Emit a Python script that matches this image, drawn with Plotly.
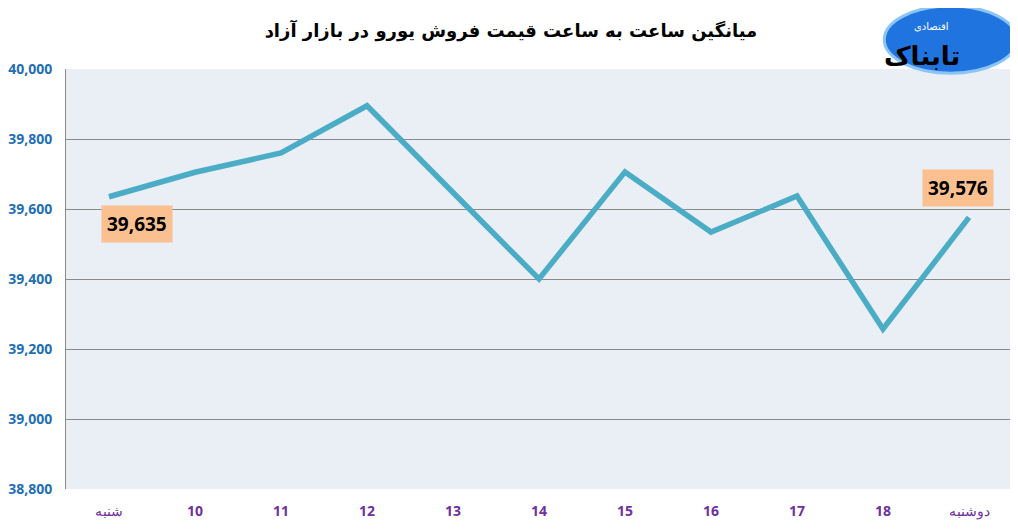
import plotly.graph_objects as go

# hourly average euro selling price, free market
hours = ["شنبه", "10", "11", "12", "13", "14", "15", "16", "17", "18", "دوشنبه"]
prices = [39635, 39705, 39760, 39895, 39647, 39400, 39706, 39534, 39637, 39257, 39576]

title_text = "میانگین ساعت به ساعت قیمت فروش یورو در بازار آزاد"
y_ticks = [38800, 39000, 39200, 39400, 39600, 39800, 40000]

# numbers bold, day names plain (like the original)
hour_labels = [h if not h.isdigit() else "<b>" + h + "</b>" for h in hours]

fig = go.Figure()
fig.add_trace(go.Scatter(
    x=hours, y=prices, mode="lines",
    line=dict(color="#4bacc6", width=5.5),
    hoverinfo="x+y", showlegend=False,
))

# value boxes on first and last point
fig.add_annotation(x=hours[0], y=prices[0], text="<b>39,635</b>",
                   showarrow=True, arrowcolor="rgba(0,0,0,0)", ax=28, ay=27,
                   bgcolor="#fac090", borderpad=5,
                   font=dict(family="Open Sans", size=19, color="black"))
fig.add_annotation(x=hours[-1], y=prices[-1], text="<b>39,576</b>",
                   showarrow=True, arrowcolor="rgba(0,0,0,0)", ax=-11, ay=-29,
                   bgcolor="#fac090", borderpad=5,
                   font=dict(family="Open Sans", size=19, color="black"))

# logo-ish badge top right
fig.add_shape(type="circle", xref="paper", yref="paper",
              x0=0.865, x1=1.005, y0=0.99, y1=1.15,
              fillcolor="#1f74e0", line=dict(color="#8cc4f5", width=3), layer="above")
fig.add_annotation(xref="paper", yref="paper", x=0.905, y=1.03,
                   xanchor="center", yanchor="middle",
                   text="<b>تابناک</b>", showarrow=False,
                   font=dict(family="DejaVu Sans", size=26, color="black"))
fig.add_annotation(xref="paper", yref="paper", x=0.915, y=1.1,
                   xanchor="center", yanchor="middle",
                   text="اقتصادی", showarrow=False,
                   font=dict(family="DejaVu Sans", size=10, color="white"))

fig.update_layout(
    width=1018, height=530,
    margin=dict(l=58, r=14, t=61, b=49),
    paper_bgcolor="white", plot_bgcolor="#e9eff4",
    title=dict(text="<b>" + title_text + "</b>", x=0.494, xanchor="center",
               y=0.958, yanchor="middle",
               font=dict(family="DejaVu Sans", size=18, color="black")),
)

fig.update_xaxes(
    type="category", range=[-0.5, 10.5],
    tickvals=hours, ticktext=hour_labels,
    showgrid=False, showline=False, ticks="",
    tickfont=dict(family="Open Sans", size=14, color="#7030a0"),
    ticklabelstandoff=12, automargin=False,
)
fig.update_yaxes(
    range=[38800, 40000], tickvals=y_ticks,
    tickformat=",d",
    showgrid=True, gridcolor="#8a8a8a", gridwidth=1,
    showline=True, linecolor="#8a8a8a", linewidth=1,
    zeroline=False, ticks="",
    tickfont=dict(family="Open Sans", size=14, color="#1f6fb5", weight="bold"),
    ticklabelstandoff=10, automargin=False,
)

fig.write_html("out.html")
